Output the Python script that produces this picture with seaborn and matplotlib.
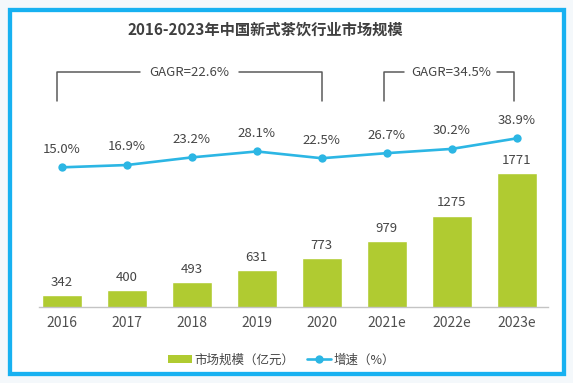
import matplotlib
matplotlib.use("Agg")
import matplotlib.pyplot as plt
from matplotlib.patches import Rectangle, Patch
from matplotlib.lines import Line2D
import seaborn as sns
import numpy as np
import pandas as pd

years = ["2016", "2017", "2018", "2019", "2020", "2021e", "2022e", "2023e"]
market_size = [342, 400, 493, 631, 773, 979, 1275, 1771]   # 亿元
growth = [15.0, 16.9, 23.2, 28.1, 22.5, 26.7, 30.2, 38.9]    # %
cagr_labels = ["GAGR=22.6%", "GAGR=34.5%"]

bar_color = "#b0cb31"
line_color = "#2cb6e4"
text_color = "#454545"
font = ["Noto Sans CJK SC", "DejaVu Sans"]

sns.set_style("white")
plt.rcParams["font.family"] = font

df = pd.DataFrame({"year": years, "size": market_size, "growth": growth,
                   "pos": np.arange(len(years))})

fig = plt.figure(figsize=(5.73, 3.83), dpi=100, facecolor="#f4f8fb")

# white panel with blue frame
frame = Rectangle((9.5 / 573, 1 - 373.5 / 383), (564 - 9.5) / 573, (373.5 - 10) / 383,
                  transform=fig.transFigure, facecolor="white", edgecolor="#17b1f1",
                  linewidth=3.1, zorder=-1)
fig.patches.append(frame)

ax = fig.add_axes([39 / 573, 1 - 306.7 / 383, (548 - 39) / 573, (306.7 - 60) / 383])
ax.patch.set_alpha(0)
sns.barplot(data=df, x="year", y="size", color=bar_color, width=0.62,
            saturation=1, ax=ax)
ax.bar_label(ax.containers[0], padding=4.5, fontsize=9.5, color=text_color)
ax.set_ylim(205, 205 + 246.7 / 0.0852)
ax.set_xlim(-0.35, 7.48)
ax.set_xlabel("")
ax.set_ylabel("")
ax.set_yticks([])
for s in ["top", "left", "right"]:
    ax.spines[s].set_visible(False)
ax.spines["bottom"].set_color("#c4c4c4")
ax.spines["bottom"].set_linewidth(1)
ax.tick_params(axis="x", length=0, pad=7, labelsize=10, labelcolor="#505050")

# growth line on twin axis
ax2 = ax.twinx()
ax2.patch.set_alpha(0)
sns.lineplot(data=df, x="pos", y="growth", color=line_color, linewidth=1.9,
             marker="o", markersize=6, markeredgewidth=0, ax=ax2)
for p, g in zip(df["pos"], df["growth"]):
    ax2.annotate(f"{g:.1f}%", (p, g), xytext=(0, 13), textcoords="offset points",
                 ha="center", va="center", fontsize=9.5, color=text_color)
ax2.set_ylim(-99.9, 103.5)
ax2.set_xlim(-0.35, 7.48)
ax2.set_yticks([])
ax2.set_xlabel("")
ax2.set_ylabel("")
for s in ax2.spines.values():
    s.set_visible(False)

# CAGR brackets
def bracket(x0, x1, gap0, gap1, label):
    top, bot = 93.6, 69.8
    kw = dict(color="#5a5a5a", linewidth=1.1, clip_on=False)
    ax2.plot([x0, x0, gap0], [bot, top, top], **kw)
    ax2.plot([gap1, x1, x1], [top, top, bot], **kw)
    ax2.text((gap0 + gap1) / 2, top, label, ha="center", va="center",
             fontsize=9.5, color=text_color)

bracket(-0.07, 4.0, 1.2, 2.72, cagr_labels[0])
bracket(4.96, 6.96, 5.27, 6.7, cagr_labels[1])

fig.text(265.5 / 573, 1 - 30 / 383, "2016-2023年中国新式茶饮行业市场规模",
         ha="center", va="center", fontsize=11, fontweight="bold", color="#3f3f3f")

handles = [Patch(facecolor=bar_color, edgecolor="none"),
           Line2D([], [], color=line_color, linewidth=1.9, marker="o", markersize=6,
                  markeredgewidth=0)]
fig.legend(handles, ["市场规模（亿元）", "增速（%）"], loc="center",
           bbox_to_anchor=(281.5 / 573, 1 - 360 / 383), ncol=2, frameon=False,
           fontsize=9, handlelength=1.9, handleheight=0.55, handletextpad=0.2,
           columnspacing=1.0, labelcolor=text_color)

fig.savefig("out.png", dpi=100, facecolor=fig.get_facecolor())
